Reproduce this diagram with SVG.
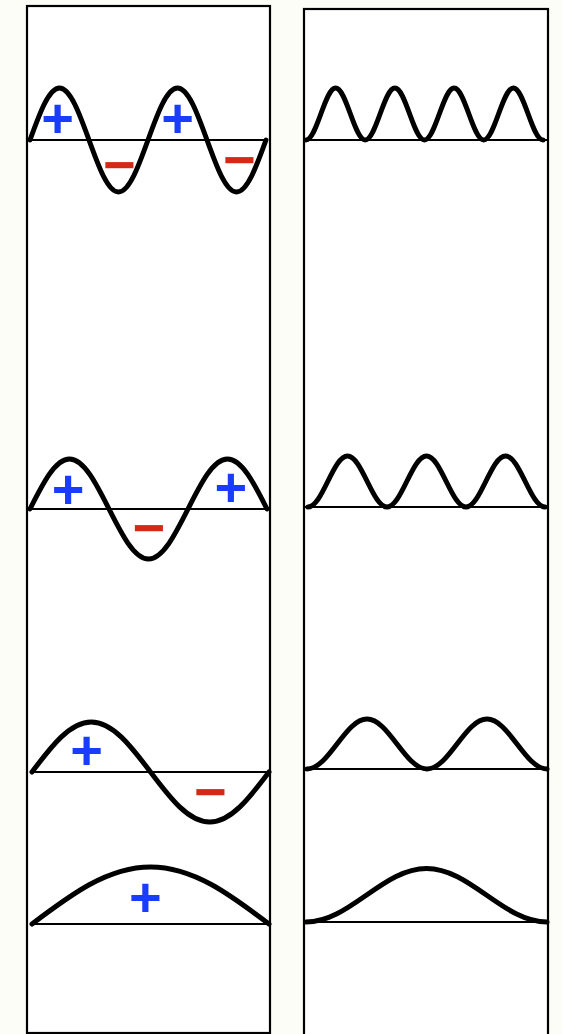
<svg xmlns="http://www.w3.org/2000/svg" width="562" height="1034" viewBox="0 0 562 1034">
<style>
.box{fill:#ffffff;stroke:#000;stroke-width:2.2}
.axis{stroke:#000;stroke-width:2;fill:none}
.wave{stroke:#000;stroke-width:5;fill:none;stroke-linecap:round;stroke-linejoin:round}
.plus{fill:#1a3cff;font-family:"Liberation Sans",Arial,sans-serif;font-weight:bold;font-size:56px;text-anchor:middle}
.minus{fill:#d42a14;font-family:"Liberation Sans",Arial,sans-serif;font-weight:bold;font-size:56px;text-anchor:middle}
</style>
<rect x="0" y="0" width="562" height="1034" fill="#fdfdf8"/>
<g id="left-box"><rect class="box" x="27" y="6" width="243" height="1027"/></g>
<g id="right-box"><rect class="box" x="304" y="9" width="244" height="1030"/></g>

<g id="psi4">
<line class="axis" x1="30" y1="140" x2="268" y2="140"/>
<path class="wave" d="M30,140 c9.63,-26.65 18.82,-52 29.5,-52 s19.87,25.35 29.5,52 s18.82,52 29.5,52 s19.87,-25.35 29.5,-52 s18.82,-52 29.5,-52 s19.87,25.35 29.5,52 s18.82,52 29.5,52 s19.87,-25.35 29.5,-52"/>
<text class="plus" x="57.5" y="136.5">+</text>
<text class="plus" x="177.5" y="136.5">+</text>
<text class="minus" x="119.7" y="183.5">−</text>
<text class="minus" x="239.7" y="178.5">−</text>
</g>
<g id="psi3">
<line class="axis" x1="30" y1="509" x2="268" y2="509"/>
<path class="wave" d="M30,509 c12.89,-25.63 25.2,-50 39.5,-50 s26.61,24.38 39.5,50 s25.2,50 39.5,50 s26.61,-24.38 39.5,-50 s25.2,-50 39.5,-50 s26.61,24.38 39.5,50"/>
<text class="plus" x="68.2" y="508">+</text>
<text class="plus" x="230.8" y="505.5">+</text>
<text class="minus" x="149.2" y="546.5">−</text>
</g>
<g id="psi2">
<line class="axis" x1="32" y1="772" x2="270" y2="772"/>
<path class="wave" d="M32,772 c19.33,-25.63 37.81,-50 59.25,-50 s39.92,24.38 59.25,50 s37.81,50 59.25,50 s39.92,-24.38 59.25,-50"/>
<text class="plus" x="86.7" y="768.5">+</text>
<text class="minus" x="210.5" y="810.5">−</text>
</g>
<g id="psi1">
<line class="axis" x1="32" y1="924" x2="269" y2="924"/>
<path class="wave" d="M32,924 c38.67,-29.21 75.61,-57 118.5,-57 s79.83,27.79 118.5,57"/>
<text class="plus" x="145.3" y="915.5">+</text>
</g>

<g id="prob4">
<line class="axis" x1="304" y1="140" x2="548" y2="140"/>
<path class="wave" d="M306,140 c5.36,0 9.98,-12.68 14.81,-26 s9.45,-26 14.81,-26 s9.98,12.68 14.81,26 s9.45,26 14.81,26 s9.98,-12.68 14.81,-26 s9.45,-26 14.81,-26 s9.98,12.68 14.81,26 s9.45,26 14.81,26 s9.98,-12.68 14.81,-26 s9.45,-26 14.81,-26 s9.98,12.68 14.81,26 s9.45,26 14.81,26 s9.98,-12.68 14.81,-26 s9.45,-26 14.81,-26 s9.98,12.68 14.81,26 s9.45,26 14.81,26"/>
</g>
<g id="prob3">
<line class="axis" x1="304" y1="507" x2="548" y2="507"/>
<path class="wave" d="M308,507 c7.15,0 13.31,-12.43 19.75,-25.5 s12.6,-25.5 19.75,-25.5 s13.31,12.43 19.75,25.5 s12.6,25.5 19.75,25.5 s13.31,-12.43 19.75,-25.5 s12.6,-25.5 19.75,-25.5 s13.31,12.43 19.75,25.5 s12.6,25.5 19.75,25.5 s13.31,-12.43 19.75,-25.5 s12.6,-25.5 19.75,-25.5 s13.31,12.43 19.75,25.5 s12.6,25.5 19.75,25.5"/>
</g>
<g id="prob2">
<line class="axis" x1="304" y1="769" x2="549" y2="769"/>
<path class="wave" d="M307,769 c10.86,0 20.21,-12.19 30,-25 s19.14,-25 30,-25 s20.21,12.19 30,25 s19.14,25 30,25 s20.21,-12.19 30,-25 s19.14,-25 30,-25 s20.21,12.19 30,25 s19.14,25 30,25"/>
</g>
<g id="prob1">
<line class="axis" x1="304" y1="922" x2="548" y2="922"/>
<path class="wave" d="M306,922 c21.8,0 40.59,-13.04 60.25,-26.75 s38.45,-26.75 60.25,-26.75 s40.59,13.04 60.25,26.75 s38.45,26.75 60.25,26.75"/>
</g>
</svg>
